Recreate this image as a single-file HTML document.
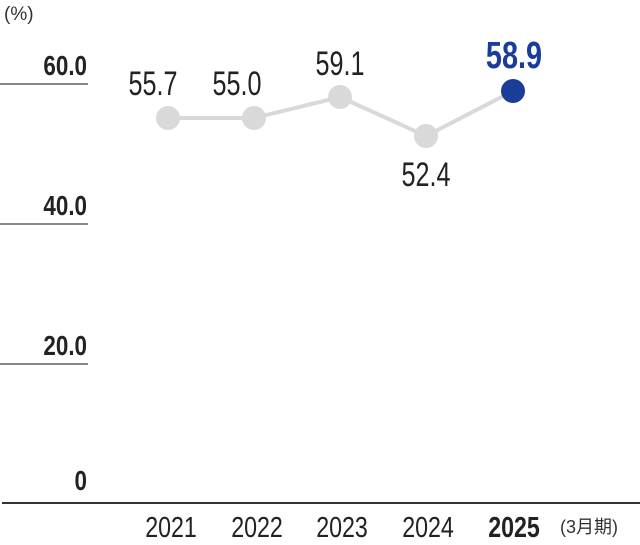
<!DOCTYPE html>
<html><head><meta charset="utf-8"><style>
html,body{margin:0;padding:0;background:#fff;}
svg text{font-family:"Liberation Sans",sans-serif;}
</style></head><body>
<svg width="640" height="540" viewBox="0 0 640 540" xmlns="http://www.w3.org/2000/svg">
<text x="4" y="20" font-size="19" fill="#333">(%)</text>
<g stroke="#888" stroke-width="2">
<line x1="0" y1="84" x2="88" y2="84"/>
<line x1="0" y1="224" x2="88" y2="224"/>
<line x1="0" y1="364" x2="88" y2="364"/>
</g>
<line x1="2" y1="503" x2="640" y2="503" stroke="#333" stroke-width="2"/>
<g font-size="28" font-weight="bold" fill="#222" text-anchor="end">
<text transform="translate(87,75) scale(0.8,1)">60.0</text>
<text transform="translate(87,215) scale(0.8,1)">40.0</text>
<text transform="translate(87,355) scale(0.8,1)">20.0</text>
<text transform="translate(87,490) scale(0.8,1)">0</text>
</g>
<polyline points="168,118 254,118 340,97 426,136" fill="none" stroke="#d9d9d9" stroke-width="4"/>
<line x1="426" y1="136" x2="513" y2="91" stroke="#d9d9d9" stroke-width="4"/>
<g fill="#d9d9d9">
<circle cx="168" cy="118" r="12"/><circle cx="254" cy="118" r="12"/>
<circle cx="340" cy="97" r="12"/><circle cx="426" cy="136" r="12"/>
</g>
<circle cx="513" cy="91" r="12" fill="#1a3d9a"/>
<g font-size="34" fill="#222" text-anchor="middle">
<text transform="translate(153,95) scale(0.74,1)">55.7</text>
<text transform="translate(237,95) scale(0.74,1)">55.0</text>
<text transform="translate(340,75) scale(0.74,1)">59.1</text>
<text transform="translate(426,186) scale(0.74,1)">52.4</text>
</g>
<text transform="translate(514,68) scale(0.76,1)" font-size="38" font-weight="bold" fill="#1a3d9a" text-anchor="middle">58.9</text>
<g font-size="29" fill="#222" text-anchor="middle">
<text transform="translate(171,537) scale(0.8,1)">2021</text>
<text transform="translate(257,537) scale(0.8,1)">2022</text>
<text transform="translate(342,537) scale(0.8,1)">2023</text>
<text transform="translate(428,537) scale(0.8,1)">2024</text>
<text transform="translate(514,537) scale(0.8,1)" font-weight="bold">2025</text>
</g>
<text x="560" y="533" font-size="18" fill="#333" font-family="Liberation Sans, Noto Sans CJK JP, sans-serif">(3月期)</text>
</svg>
</body></html>
